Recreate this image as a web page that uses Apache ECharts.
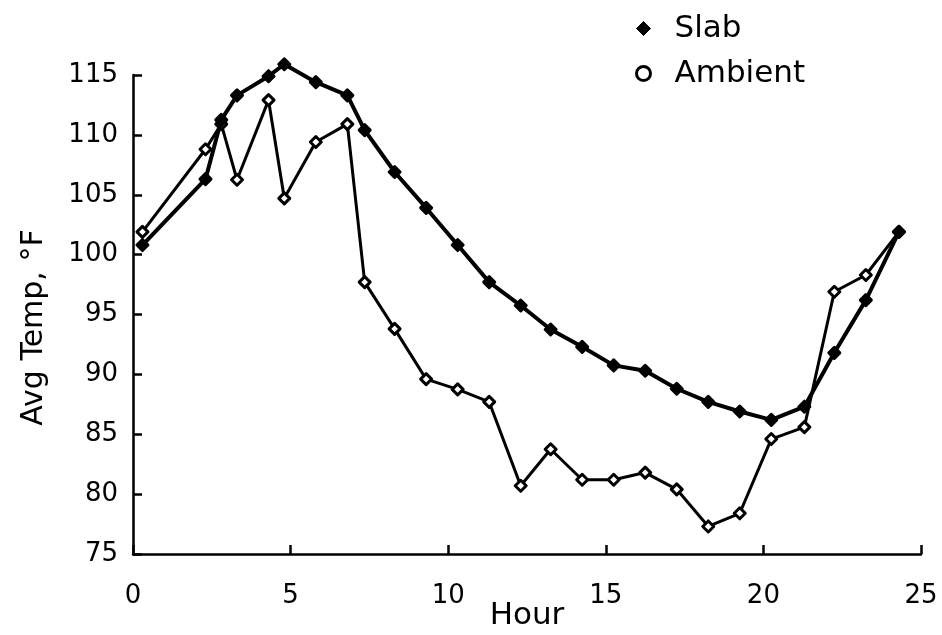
<!DOCTYPE html>
<html>
<head>
<meta charset="utf-8">
<script src="https://cdn.jsdelivr.net/npm/echarts@6/dist/echarts.min.js"></script>
<style>
  html, body { margin: 0; padding: 0; background: #fff; }
  #chart { width: 942px; height: 635px; }
</style>
</head>
<body>
<div id="chart"></div>
<script>
// Hour of day at which each average was taken
const hours = [0.3, 2.3, 2.8, 3.3, 4.3, 4.8, 5.8, 6.8, 7.35, 8.3, 9.3, 10.3, 11.3,
               12.3, 13.25, 14.25, 15.25, 16.25, 17.25, 18.25, 19.25, 20.25, 21.3,
               22.25, 23.25, 24.3];
// Average slab temperature, °F
const slabTemps = [100.8, 106.3, 111.25, 113.3, 114.9, 115.9, 114.4, 113.3, 110.4,
                   106.9, 103.9, 100.8, 97.7, 95.75, 93.75, 92.3, 90.75, 90.3, 88.8,
                   87.7, 86.9, 86.2, 87.3, 91.8, 96.2, 101.9];
// Average ambient temperature, °F
const ambientTemps = [101.9, 108.8, 110.9, 106.25, 112.9, 104.7, 109.4, 110.9, 97.7,
                      93.8, 89.6, 88.75, 87.7, 80.7, 83.75, 81.2, 81.2, 81.8, 80.4,
                      77.3, 78.4, 84.6, 85.6, 96.9, 98.3, 101.9];
const seriesNames = ['Slab', 'Ambient'];
const axisTitles = { x: 'Hour', y: 'Avg Temp, °F' };

const pair = (xs, ys) => xs.map((x, i) => [x, ys[i]]);
const FONT = 'DejaVu Sans';
const axisLine = { show: true, lineStyle: { color: '#000', width: 2.5 } };
const axisTick = { show: true, inside: true, length: 9, lineStyle: { color: '#000', width: 2.5 } };

const chart = echarts.init(document.getElementById('chart'), null, { renderer: 'canvas' });
chart.setOption({
  animation: false,
  backgroundColor: '#fff',
  grid: { left: 133, right: 21, top: 75, bottom: 81, containLabel: false, outerBoundsMode: 'none' },
  legend: {
    orient: 'vertical',
    left: 630,
    top: 8,
    itemWidth: 14,
    itemHeight: 14,
    itemGap: 14,
    selectedMode: false,
    textStyle: { fontFamily: FONT, fontSize: 31, color: '#000', lineHeight: 31, padding: [0, 0, 0, 19] },
    data: [
      { name: seriesNames[0], icon: 'diamond', itemStyle: { color: '#000', borderColor: '#000', borderWidth: 1 } },
      { name: seriesNames[1], icon: 'circle', itemStyle: { color: '#fff', borderColor: '#000', borderWidth: 3 } }
    ]
  },
  xAxis: {
    type: 'value',
    min: 0, max: 25, interval: 5,
    name: axisTitles.x,
    nameLocation: 'middle',
    nameGap: 46,
    nameMoveOverlap: false,
    nameTextStyle: { fontFamily: FONT, fontSize: 31, color: '#000' },
    axisLine, axisTick,
    splitLine: { show: false },
    axisLabel: { fontFamily: FONT, fontSize: 26, color: '#000', margin: 29 }
  },
  yAxis: {
    type: 'value',
    min: 75, max: 115, interval: 5,
    name: axisTitles.y,
    nameLocation: 'middle',
    nameGap: 84,
    nameRotate: 90,
    nameMoveOverlap: false,
    nameTextStyle: { fontFamily: FONT, fontSize: 30, color: '#000', padding: [0, 26, 0, 0] },
    axisLine, axisTick,
    splitLine: { show: false },
    axisLabel: { fontFamily: FONT, fontSize: 26, color: '#000', margin: 15 }
  },
  series: [
    {
      name: seriesNames[1],
      type: 'line',
      clip: false,
      data: pair(hours, ambientTemps),
      symbol: 'diamond',
      symbolSize: 11,
      lineStyle: { color: '#000', width: 3 },
      itemStyle: { color: '#fff', borderColor: '#000', borderWidth: 3, borderJoin: 'round' },
      z: 2
    },
    {
      name: seriesNames[0],
      type: 'line',
      clip: false,
      data: pair(hours, slabTemps),
      symbol: 'diamond',
      symbolSize: 11,
      lineStyle: { color: '#000', width: 4 },
      itemStyle: { color: '#000', borderColor: '#000', borderWidth: 3, borderJoin: 'round' },
      z: 3
    }
  ]
});
</script>
</body>
</html>
